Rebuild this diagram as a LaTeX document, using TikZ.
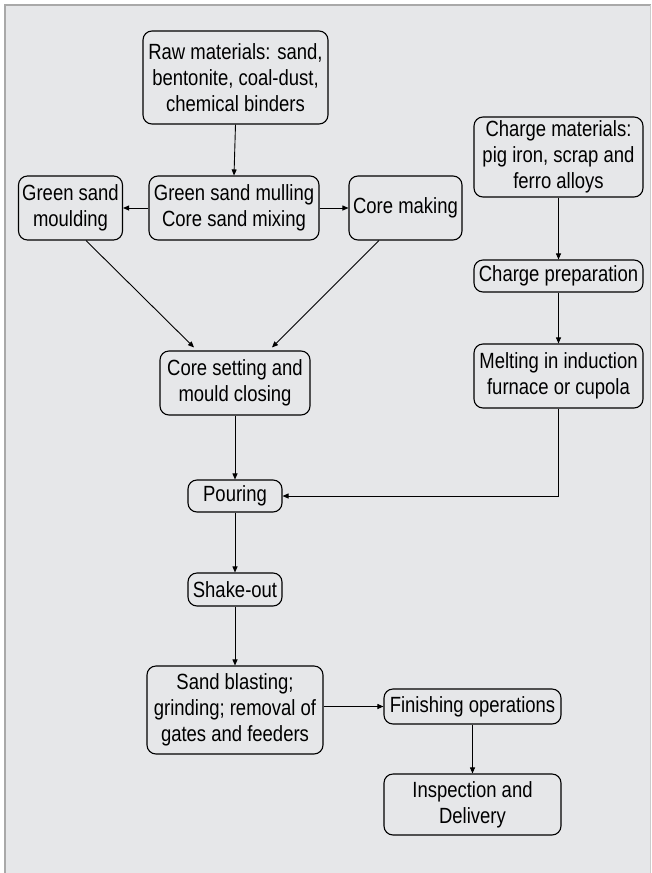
\documentclass[tikz,border=0pt]{standalone}
\usepackage{fontspec}
\setmainfont[FakeStretch=0.84]{Liberation Sans}
\usetikzlibrary{arrows.meta,calc}
\definecolor{bgfill}{HTML}{E6E7E9}
\definecolor{frame}{HTML}{A9A9A9}
\begin{document}
\begin{tikzpicture}[x=1pt,y=-1pt,
  box/.style={draw=black,line width=1.1pt,rounded corners=9pt,inner sep=0pt,align=center,
    font=\fontsize{22}{26}\selectfont,text=black},
  conn/.style={draw=black,line width=0.9pt,-{Triangle[length=6pt,width=5pt]}}]
\useasboundingbox (0,0) rectangle (651,873);
\fill[white] (0,0) rectangle (651,873);
\fill[bgfill] (5,5) rectangle (651,873);
\draw[frame,line width=2pt] (5,873) -- (5,5) -- (651,5);
\draw[frame!60,line width=1pt] (650.5,5) -- (650.5,873);

\node[box,minimum width=185pt,minimum height=93pt] (raw) at (235.5,77.5) {Raw materials: sand,\\bentonite, coal-dust,\\chemical binders};
\node[box,minimum width=104pt,minimum height=64pt] (gsm) at (70.5,208) {Green sand\\moulding};
\node[box,minimum width=170pt,minimum height=64pt] (mull) at (234,208) {Green sand mulling\\Core sand mixing};
\node[box,minimum width=113pt,minimum height=64pt] (cm) at (405.5,208) {Core making};
\node[box,minimum width=169pt,minimum height=80pt] (chm) at (558.5,157) {Charge materials:\\pig iron, scrap and\\ferro alloys};
\node[box,minimum width=169pt,minimum height=32pt] (chp) at (558.5,276) {Charge preparation};
\node[box,minimum width=169pt,minimum height=64pt] (melt) at (558.5,376) {Melting in induction\\furnace or cupola};
\node[box,minimum width=150pt,minimum height=64pt] (cs) at (235,383) {Core setting and\\mould closing};
\node[box,minimum width=94pt,minimum height=32pt] (pour) at (235,496) {Pouring};
\node[box,minimum width=94pt,minimum height=33pt] (shake) at (235,589.5) {Shake-out};
\node[box,minimum width=176pt,minimum height=88pt] (sand) at (235,710) {Sand blasting;\\grinding; removal of\\gates and feeders};
\node[box,minimum width=177pt,minimum height=35pt] (fin) at (472.5,706.5) {Finishing operations};
\node[box,minimum width=177pt,minimum height=61pt] (insp) at (472.5,804.5) {Inspection and\\Delivery};

\draw[conn] (raw.south) -- (mull.north);
\draw[conn] (mull.west) -- (gsm.east);
\draw[conn] (mull.east) -- (cm.west);
\draw[conn] ($(gsm.south)+(15.5,0)$) -- ($(cs.north)+(-41,-3)$);
\draw[conn] ($(cm.south)+(-26.5,0)$) -- ($(cs.north)+(37,-3)$);
\draw[conn] (chm.south) -- (chp.north);
\draw[conn] (chp.south) -- (melt.north);
\draw[conn] (melt.south) |- (pour.east);
\draw[conn] (cs.south) -- (pour.north);
\draw[conn] (pour.south) -- (shake.north);
\draw[conn] (shake.south) -- (sand.north);
\draw[conn] (sand.east |- fin.west) -- (fin.west);
\draw[conn] (fin.south) -- (insp.north);
\end{tikzpicture}
\end{document}
